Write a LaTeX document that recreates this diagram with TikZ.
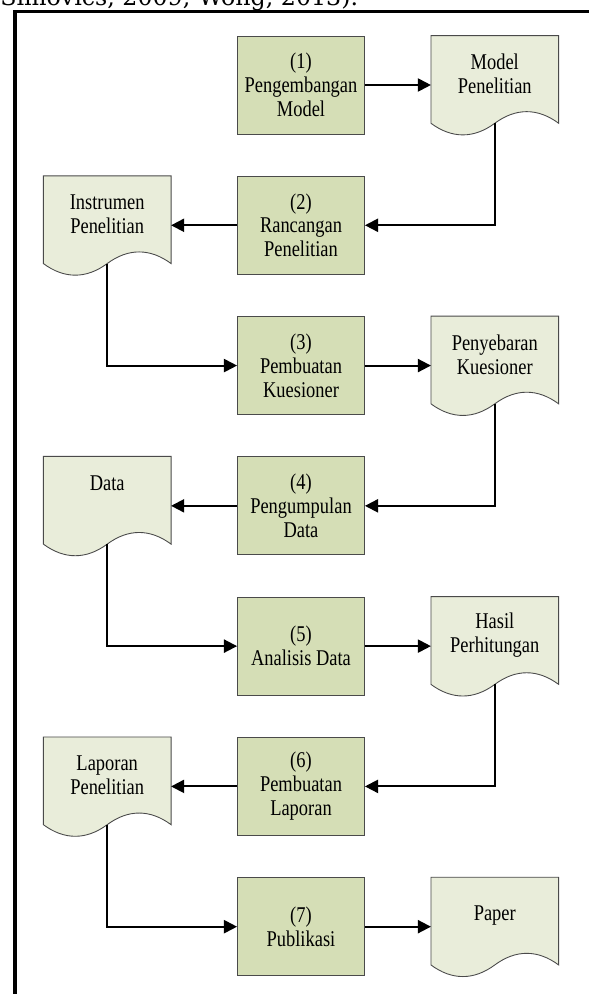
\documentclass[tikz,border=0pt]{standalone}
\usepackage{fontspec}
\setmainfont{Liberation Serif}[FakeStretch=0.82]
\newfontfamily\citefont{DejaVu Serif}
\usepackage{tikz}
\usetikzlibrary{positioning, arrows.meta, backgrounds}

\definecolor{stepgreen}{HTML}{D5DEB6}
\definecolor{docgreen}{HTML}{E9EDDA}
\definecolor{edgegray}{HTML}{4A4A4A}

\newcommand{\wavegap}{0.22cm}
% document shape with a wavy bottom, drawn round a named node
\newcommand{\docwave}[1]{%
  \filldraw[fill=docgreen, draw=edgegray, line width=0.5pt]
    (#1.north west) -- (#1.north east) -- ([yshift=-\wavegap]#1.south east)
    .. controls +(-0.42,0.31) and +(0.42,0.31) .. ([yshift=-\wavegap]#1.south)
    .. controls +(-0.42,-0.31) and +(0.42,-0.31) .. ([yshift=-\wavegap]#1.south west)
    -- cycle;
  \coordinate (#1 out) at ([yshift=-\wavegap]#1.south);}

\tikzset{
  stepbox/.style={draw=edgegray, fill=stepgreen, line width=0.5pt,
    minimum width=2.54cm, minimum height=1.96cm, inner sep=0pt, align=center,
    font=\fontsize{12.8}{13.6}\selectfont},
  docbox/.style={minimum width=2.54cm, minimum height=1.52cm, inner sep=0pt,
    align=center, font=\fontsize{12.8}{13.6}\selectfont},
  flow/.style={-{Triangle[length=7.5pt,width=7.5pt]}, line width=1.1pt}
}

\begin{document}
\begin{tikzpicture}
    \useasboundingbox (0,0) rectangle (11.78,-19.88);
    \clip (0,0) rectangle (11.78,-19.88);
    \node[anchor=base west, inner sep=0pt, font=\citefont\fontsize{13.5}{16}\selectfont] (cite) at (0,-0.11) {Simovics, 2009; Wong, 2013).};
    \draw[line width=2pt] (0.30,-19.88) -- (0.30,-0.23) -- (11.78,-0.23); %frame
    %
    \node[stepbox] (s1) at (6.02,-1.70) {(1)\\Pengembangan\\Model};
    \node[stepbox, below=0.828cm of s1] (s2) {(2)\\Rancangan\\Penelitian};
    \node[stepbox, below=0.828cm of s2] (s3) {(3)\\Pembuatan\\Kuesioner};
    \node[stepbox, below=0.828cm of s3] (s4) {(4)\\Pengumpulan\\Data};
    \node[stepbox, below=0.828cm of s4] (s5) {(5)\\Analisis Data};
    \node[stepbox, below=0.828cm of s5] (s6) {(6)\\Pembuatan\\Laporan};
    \node[stepbox, below=0.828cm of s6] (s7) {(7)\\Publikasi};
    %
    \node[docbox, right=1.32cm of s1.north east, anchor=north west] (d1) {Model\\Penelitian};
    \node[docbox, left=1.32cm of s2.north west, anchor=north east] (d2) {Instrumen\\Penelitian};
    \node[docbox, right=1.32cm of s3.north east, anchor=north west] (d3) {Penyebaran\\Kuesioner};
    \node[docbox, left=1.32cm of s4.north west, anchor=north east] (d4) {Data\\\mbox{}};
    \node[docbox, right=1.32cm of s5.north east, anchor=north west] (d5) {Hasil\\Perhitungan};
    \node[docbox, left=1.32cm of s6.north west, anchor=north east] (d6) {Laporan\\Penelitian};
    \node[docbox, right=1.32cm of s7.north east, anchor=north west] (d7) {Paper};
    \begin{scope}[on background layer]
      \foreach \d in {d1,d2,d3,d4,d5,d6,d7} {\docwave{\d}}
    \end{scope}
    %
    \draw[flow] (s1.east) -- (s1.east -| d1.west);
    \draw[flow] (d1 out) |- (s2.east);
    \draw[flow] (s2.west) -- (s2.west -| d2.east);
    \draw[flow] (d2 out) |- (s3.west);
    \draw[flow] (s3.east) -- (s3.east -| d3.west);
    \draw[flow] (d3 out) |- (s4.east);
    \draw[flow] (s4.west) -- (s4.west -| d4.east);
    \draw[flow] (d4 out) |- (s5.west);
    \draw[flow] (s5.east) -- (s5.east -| d5.west);
    \draw[flow] (d5 out) |- (s6.east);
    \draw[flow] (s6.west) -- (s6.west -| d6.east);
    \draw[flow] (d6 out) |- (s7.west);
    \draw[flow] (s7.east) -- (s7.east -| d7.west);
\end{tikzpicture}
\end{document}
